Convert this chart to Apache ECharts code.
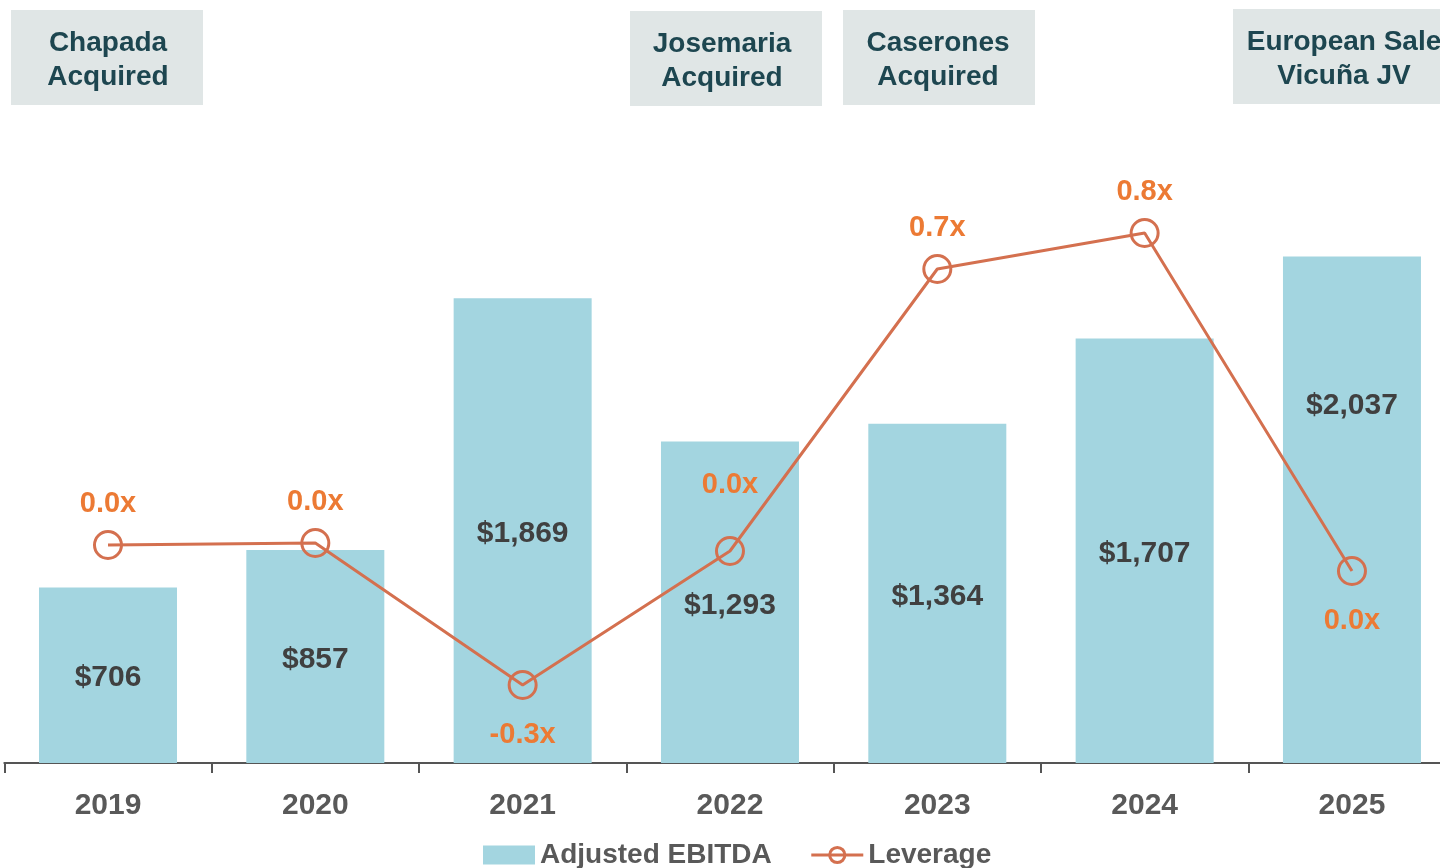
<!DOCTYPE html>
<html>
<head>
<meta charset="utf-8">
<title>Adjusted EBITDA and Leverage</title>
<script src="https://cdn.jsdelivr.net/npm/echarts@6/dist/echarts.min.js"></script>
<style>
  html, body { margin: 0; padding: 0; background: #ffffff; }
  #chart { width: 1440px; height: 868px; }
</style>
</head>
<body>
<div id="chart"></div>
<script>
// Fiscal years on the category axis
const years = ['2019', '2020', '2021', '2022', '2023', '2024', '2025'];
// Adjusted EBITDA, US$ millions
const ebitda = [706, 857, 1869, 1293, 1364, 1707, 2037];
// Net debt / EBITDA leverage multiple
const leverage = [0.03, 0.035, -0.32, 0.015, 0.72, 0.81, -0.035];
// Milestone call-outs shown above the chart
const milestones = [
  ['Chapada', 'Acquired'],
  ['Josemaria', 'Acquired'],
  ['Caserones', 'Acquired'],
  ['European Sale', 'Vicuña JV']
];

const FONT = '"Liberation Sans", Arial, Helvetica, sans-serif';
const BAR = '#a3d5e0';
const LINE = '#d4704f';
const LINE_LABEL = '#ec7a34';
const DARK = '#404040';
const AXIS_TEXT = '#595959';
const BOX_FILL = '#e0e6e6';
const BOX_TEXT = '#1d4650';

// label placement tweaks per point
const barLabelTweak = { 6: { offset: [0, -104] } };
const lineLabelTweak = {
  2: { position: 'bottom', distance: 20 },
  3: { distance: 37 },
  6: { position: 'bottom', distance: 20 }
};

const barData = ebitda.map((v, i) => ({
  value: v,
  label: Object.assign({}, barLabelTweak[i] || {})
}));
const lineData = leverage.map((v, i) => ({
  value: v,
  label: Object.assign({}, lineLabelTweak[i] || {})
}));

// call-out boxes: [x, y, width, height, text centre x]
const boxGeom = [
  [11, 10, 192, 95, 108],
  [630, 11, 192, 95, 722],
  [843, 10, 192, 95, 938],
  [1233, 9, 222, 95, 1344]
];
const graphics = [];
milestones.forEach((lines, i) => {
  const g = boxGeom[i];
  graphics.push({
    type: 'rect', left: g[0], top: g[1], silent: true,
    shape: { width: g[2], height: g[3] },
    style: { fill: BOX_FILL }
  });
  graphics.push({
    type: 'text', x: g[4], y: g[1] + g[3] / 2 + 3, silent: true,
    style: {
      text: lines.join('\n'),
      fill: BOX_TEXT,
      font: 'bold 28px ' + FONT,
      lineHeight: 34,
      align: 'center',
      verticalAlign: 'middle'
    }
  });
});

const chart = echarts.init(document.getElementById('chart'), null, { renderer: 'canvas' });

const fmtMoney = v => '$' + Number(v).toLocaleString('en-US');
const fmtMult = v => (Math.abs(v) < 0.05 ? 0 : v).toFixed(1) + 'x';

chart.setOption({
  animation: false,
  textStyle: { fontFamily: FONT },
  grid: {
    left: 4.33, top: 17, width: 1451.3, height: 746,
    containLabel: false, outerBoundsMode: 'none'
  },
  legend: {
    left: 478, top: 836,
    itemWidth: 52, itemHeight: 19, itemGap: 38,
    textStyle: { fontFamily: FONT, fontSize: 28, fontWeight: 'bold', color: AXIS_TEXT },
    data: [
      { name: 'Adjusted EBITDA', icon: 'rect' },
      {
        name: 'Leverage',
        lineStyle: { width: 3, color: LINE },
        itemStyle: { borderWidth: 3, borderColor: LINE, color: 'rgba(255,255,255,0)' }
      }
    ]
  },
  graphic: graphics,
  xAxis: {
    type: 'category',
    data: years,
    boundaryGap: true,
    axisLine: { show: true, lineStyle: { color: '#555555', width: 2 } },
    axisTick: { show: true, length: 10, lineStyle: { color: '#555555', width: 2 } },
    axisLabel: { margin: 28, fontSize: 30, fontWeight: 'bold', color: AXIS_TEXT, fontFamily: FONT },
    splitLine: { show: false }
  },
  yAxis: [
    { type: 'value', min: 0, max: 3000, show: false, splitLine: { show: false } },
    { type: 'value', min: -0.515, max: 1.35, show: false, splitLine: { show: false } }
  ],
  series: [
    {
      name: 'Adjusted EBITDA',
      type: 'bar',
      yAxisIndex: 0,
      barWidth: 138,
      itemStyle: { color: BAR },
      label: {
        show: true, position: 'inside', offset: [0, 3],
        color: DARK, fontSize: 30, fontWeight: 'bold', fontFamily: FONT,
        formatter: p => fmtMoney(p.value)
      },
      data: barData,
      z: 1
    },
    {
      name: 'Leverage',
      type: 'line',
      yAxisIndex: 1,
      symbol: 'circle',
      symbolSize: 27,
      showAllSymbol: true,
      lineStyle: { color: LINE, width: 3 },
      itemStyle: { color: 'rgba(255,255,255,0)', borderColor: LINE, borderWidth: 3 },
      label: {
        show: true, position: 'top', distance: 12,
        color: LINE_LABEL, fontSize: 29, fontWeight: 'bold', fontFamily: FONT,
        formatter: p => fmtMult(p.value)
      },
      data: lineData,
      z: 3
    }
  ]
});
</script>
</body>
</html>
